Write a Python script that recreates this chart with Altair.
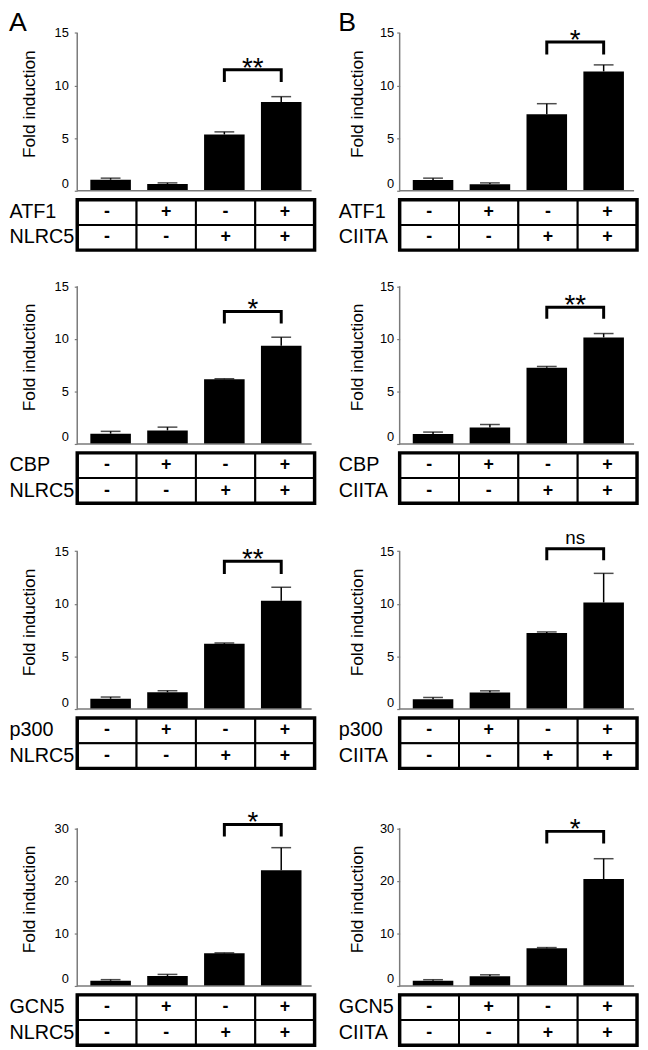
import altair as alt
import pandas as pd

# ---------------- data ----------------
conditions = [1, 2, 3, 4]
col_letters = ["A", "B"]
partners = ["NLRC5", "CIITA"]
cofactors = ["ATF1", "CBP", "p300", "GCN5"]
cofactor_signs = ["-", "+", "-", "+"]
partner_signs = ["-", "-", "+", "+"]
axis_max = [15, 15, 15, 30]

# Column A (NLRC5)
a_means = [
    [1.05, 0.65, 5.35, 8.45],
    [0.98, 1.29, 6.15, 9.35],
    [0.98, 1.59, 6.20, 10.30],
    [1.00, 1.90, 6.20, 22.0],
]
a_upper = [
    [1.20, 0.75, 5.60, 8.95],
    [1.20, 1.60, 6.20, 10.15],
    [1.14, 1.74, 6.28, 11.58],
    [1.20, 2.20, 6.30, 26.3],
]
a_sig = ["**", "*", "**", "*"]
a_bracket_top = [11.5, 12.6, 14.05, 30.7]
a_bracket_leg = [10.35, 11.45, 12.85, 28.4]

# Column B (CIITA)
b_means = [
    [1.03, 0.63, 7.27, 11.35],
    [0.94, 1.57, 7.25, 10.13],
    [0.94, 1.57, 7.23, 10.13],
    [1.00, 1.87, 7.17, 20.34],
]
b_upper = [
    [1.20, 0.75, 8.28, 11.97],
    [1.13, 1.85, 7.37, 10.50],
    [1.10, 1.73, 7.33, 12.90],
    [1.19, 2.12, 7.30, 24.2],
]
b_sig = ["*", "**", "ns", "*"]
b_bracket_top = [14.15, 13.0, 15.25, 29.4]
b_bracket_leg = [12.95, 11.9, 14.15, 27.1]

# ---------------- layout / style ----------------
FONT = "Liberation Sans"
PLOT_W = 240
HEIGHTS = [183, 180, 192, 204]
TICK_PX = 159.5
TABLE_H = 51
AXIS_GRAY = "#7a7a7a"
COL_STYLE = {
    0: dict(label_pad=6, title_pad=16, table_pad=69),
    1: dict(label_pad=3, title_pad=13, table_pad=62),
}
DATA = {
    0: (a_means, a_upper, a_sig, a_bracket_top, a_bracket_leg),
    1: (b_means, b_upper, b_sig, b_bracket_top, b_bracket_leg),
}

x_scale = alt.Scale(domain=[0.5, 4.5], nice=False, zero=False)


def bar_panel(col, row):
    means, uppers, sigs, btops, blegs = DATA[col]
    st = COL_STYLE[col]
    H = HEIGHTS[row]
    tmax = axis_max[row]
    dmax = H * tmax / TICK_PX
    y_scale = alt.Scale(domain=[0, dmax], nice=False, zero=True)
    y_axis = alt.Axis(
        values=[0, tmax // 3, 2 * tmax // 3, tmax],
        title="Fold induction", domain=False, grid=False,
        tickSize=3, tickColor=AXIS_GRAY, tickWidth=1.2,
        labelFontSize=13, labelPadding=st["label_pad"], labelFlush=True,
        labelColor="black", labelFont=FONT,
        titleFontSize=17.5, titleFontWeight="normal", titleColor="black",
        titleFont=FONT, titlePadding=st["title_pad"], titleY=H - 88,
    )

    def Y(field):
        return alt.Y(field, scale=y_scale, axis=y_axis, title="Fold induction")

    X = alt.X("cond:Q", scale=x_scale, axis=None)

    df = pd.DataFrame({"cond": conditions, "mean": means[row], "upper": uppers[row]})
    base = alt.Chart(df)
    bars = base.mark_bar(color="black", size=41, orient="vertical").encode(x=X, y=Y("mean:Q"))
    err = base.mark_rule(color="black", strokeWidth=1.5).encode(x=X, y=Y("mean:Q"), y2="upper:Q")
    cap = base.mark_tick(color="black", orient="horizontal", size=20, thickness=1.5).encode(
        x=X, y=Y("upper:Q"))

    ax_df = pd.DataFrame({"y0": [0], "y1": [tmax]})
    yline = alt.Chart(ax_df).mark_rule(color=AXIS_GRAY, strokeWidth=1.5).encode(
        x=alt.value(0), y=Y("y0:Q"), y2="y1:Q")
    xline = alt.Chart(ax_df).mark_rule(color=AXIS_GRAY, strokeWidth=1.5).encode(
        x=alt.value(0), x2=alt.value(PLOT_W - 3), y=Y("y0:Q"))

    br_df = pd.DataFrame({
        "cond": [3, 3, 4, 4],
        "by": [blegs[row], btops[row], btops[row], blegs[row]],
        "ord": [0, 1, 2, 3],
    })
    bracket = alt.Chart(br_df).mark_line(
        color="black", strokeWidth=3, strokeCap="butt", strokeJoin="miter"
    ).encode(x=X, y=Y("by:Q"), order="ord:Q")

    lab = sigs[row]
    t_df = pd.DataFrame({"cond": [3.5], "ty": [btops[row]], "lab": [lab]})
    if lab == "ns":
        txt = alt.Chart(t_df).mark_text(fontSize=19, baseline="alphabetic", dy=-5,
                                        color="black", font=FONT)
    else:
        txt = alt.Chart(t_df).mark_text(fontSize=28, baseline="alphabetic", dy=7,
                                        color="black", font=FONT)
    txt = txt.encode(x=X, y=Y("ty:Q"), text="lab:N")

    layers = [bars, err, cap, yline, xline, bracket, txt]
    if row == 0:
        letter = alt.Chart(pd.DataFrame({"t": [col_letters[col]]})).mark_text(
            fontSize=27, align="left", baseline="top", color="black", font=FONT
        ).encode(x=alt.value(-st["table_pad"]), y=alt.value(0), text="t:N")
        layers.append(letter)
    return alt.layer(*layers).properties(width=PLOT_W, height=H)


def table_panel(col, row):
    st = COL_STYLE[col]
    cof = cofactors[row]
    par = partners[col]
    df = pd.DataFrame({
        "cond": conditions * 2,
        "factor": [cof] * 4 + [par] * 4,
        "sign": cofactor_signs + partner_signs,
    })
    y = alt.Y("factor:N", sort=[cof, par],
              scale=alt.Scale(paddingInner=0, paddingOuter=0),
              axis=alt.Axis(title=None, domain=False, ticks=False, tickSize=0,
                            labelAlign="left", labelPadding=st["table_pad"],
                            labelFontSize=20, labelColor="black", labelFont=FONT))
    base = alt.Chart(df)
    cells = base.transform_calculate(
        x0="datum.cond - 0.5", x1="datum.cond + 0.5"
    ).mark_rect(fill="white", stroke="black", strokeWidth=2).encode(
        x=alt.X("x0:Q", scale=x_scale, axis=None), x2="x1:Q", y=y)
    signs = base.mark_text(fontSize=18, fontWeight="bold", color="black", font=FONT).encode(
        x=alt.X("cond:Q", scale=x_scale, axis=None), y=y, text="sign:N")
    border = alt.Chart(pd.DataFrame({"b": [0]})).mark_rect(
        fillOpacity=0, stroke="black", strokeWidth=3.5
    ).encode(x=alt.value(0), x2=alt.value(PLOT_W), y=alt.value(0), y2=alt.value(TABLE_H))
    return alt.layer(cells, signs, border).properties(width=PLOT_W, height=TABLE_H)


columns = []
for c in range(2):
    panels = [alt.vconcat(bar_panel(c, r), table_panel(c, r), spacing=4) for r in range(4)]
    columns.append(alt.vconcat(*panels, spacing=12))

chart = alt.hconcat(*columns, spacing=20).properties(
    padding={"top": -6, "left": 0, "right": 0, "bottom": 0}
).configure(font=FONT).configure_view(stroke="transparent")

chart.save("out.html", embed_options={"renderer": "svg", "actions": False})
